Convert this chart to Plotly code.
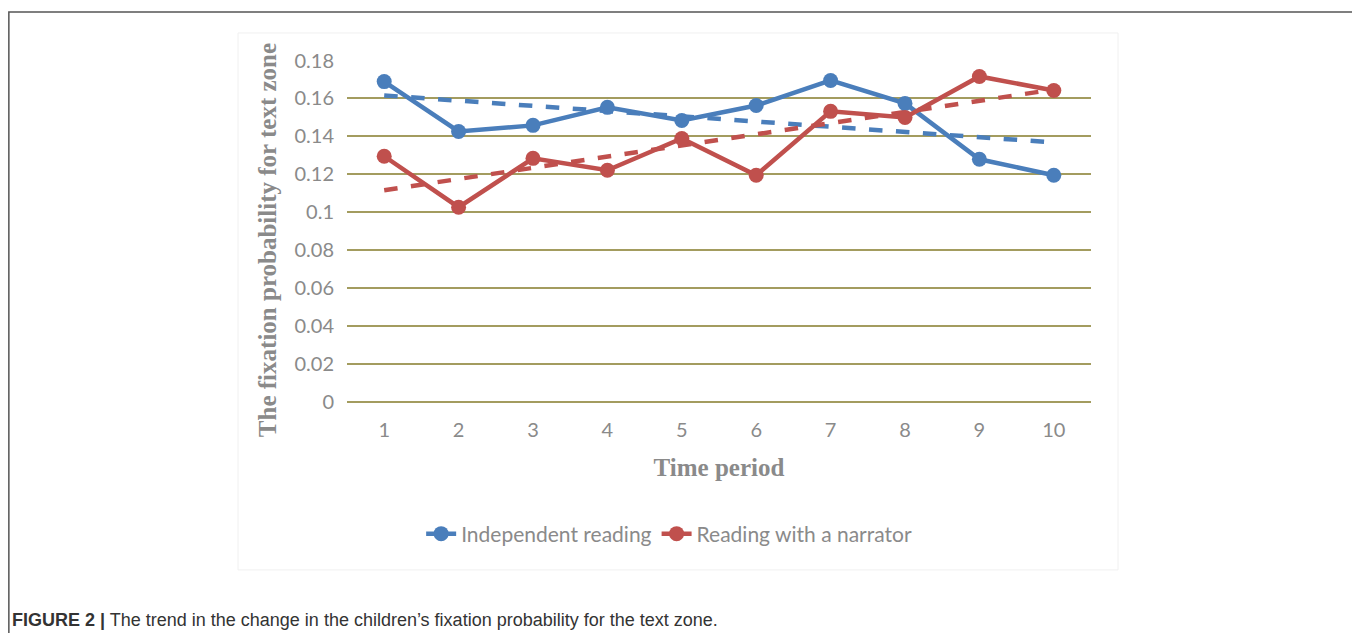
import plotly.graph_objects as go

periods = ["1", "2", "3", "4", "5", "6", "7", "8", "9", "10"]
independent = [0.1689, 0.1426, 0.1458, 0.1553, 0.1484, 0.1563, 0.1695, 0.1574, 0.1279, 0.1195]
narrator = [0.1295, 0.1026, 0.1284, 0.1221, 0.1389, 0.1195, 0.1532, 0.1500, 0.1716, 0.1642]
trend_x = ["1", "10"]
independent_trend = [0.1616, 0.1368]
narrator_trend = [0.1116, 0.1647]
ytick_vals = [0, 0.02, 0.04, 0.06, 0.08, 0.1, 0.12, 0.14, 0.16, 0.18]
ytick_text = ["0", "0.02", "0.04", "0.06", "0.08", "0.1", "0.12", "0.14", "0.16", "0.18"]

BLUE = "#4a7ebb"
RED = "#c0504d"
GRID = "#a39c5f"
GREY = "#8a8a8a"

fig = go.Figure()
fig.add_trace(go.Scatter(x=trend_x, y=independent_trend, mode="lines",
                         line=dict(color=BLUE, width=4.5, dash="dash"), showlegend=False))
fig.add_trace(go.Scatter(x=trend_x, y=narrator_trend, mode="lines",
                         line=dict(color=RED, width=4.5, dash="dash"), showlegend=False))
fig.add_trace(go.Scatter(x=periods, y=independent, mode="lines+markers", name="Independent reading",
                         line=dict(color=BLUE, width=4.5), marker=dict(size=15, color=BLUE)))
fig.add_trace(go.Scatter(x=periods, y=narrator, mode="lines+markers", name="Reading with a narrator",
                         line=dict(color=RED, width=4.5), marker=dict(size=15, color=RED)))

fig.update_layout(
    width=1352, height=625,
    margin=dict(l=339, r=269, t=52, b=231),
    paper_bgcolor="white", plot_bgcolor="white",
    showlegend=True,
    legend=dict(orientation="h", x=0.433, y=-0.386, xanchor="center", yanchor="middle",
                font=dict(family="Lato", size=21, color=GREY),
                traceorder="normal"),
    xaxis=dict(type="category", categoryorder="array", categoryarray=periods,
               range=[-0.5, 9.5], showgrid=False, zeroline=False, showline=False,
               ticks="", ticklabelstandoff=14, tickfont=dict(family="Lato", size=20, color=GREY),
               title=dict(text="Time period", standoff=18,
                          font=dict(family="Liberation Serif", size=25, color=GREY, weight="bold"))),
    yaxis=dict(range=[-0.0002, 0.1803], tickvals=ytick_vals, ticktext=ytick_text,
               showgrid=True, gridcolor=GRID, gridwidth=2,
               zeroline=True, zerolinecolor=GRID, zerolinewidth=2, showline=False,
               ticks="", ticklabelstandoff=12,
               tickfont=dict(family="Lato", size=20, color=GREY)),
)

# y-axis title
fig.add_annotation(xref="paper", yref="paper", x=-0.106, y=0.4737, xanchor="center", yanchor="middle",
                   showarrow=False, textangle=-90,
                   text="<b>The fixation probability for text zone</b>",
                   font=dict(family="Liberation Serif", size=25, color=GREY))

# inner chart frame (faint)
fig.add_shape(type="rect", xref="paper", yref="paper", x0=-0.1465, x1=1.0363, y0=-0.491, y1=1.079,
              line=dict(color="#f0f0f0", width=1), layer="below")
# outer figure frame
fig.add_shape(type="rect", xref="paper", yref="paper", x0=-0.4545, x1=1.3548, y0=-0.72, y1=1.1404,
              line=dict(color="#555555", width=1.5), layer="below")

fig.add_annotation(xref="paper", yref="paper", x=-0.4535, y=-0.637, xanchor="left", yanchor="middle",
                   showarrow=False, align="left",
                   text="<b>FIGURE 2 |</b> The trend in the change in the children\u2019s fixation probability for the text zone.",
                   font=dict(family="Liberation Sans", size=18, color="#333333"))

fig.write_html("out.html")
